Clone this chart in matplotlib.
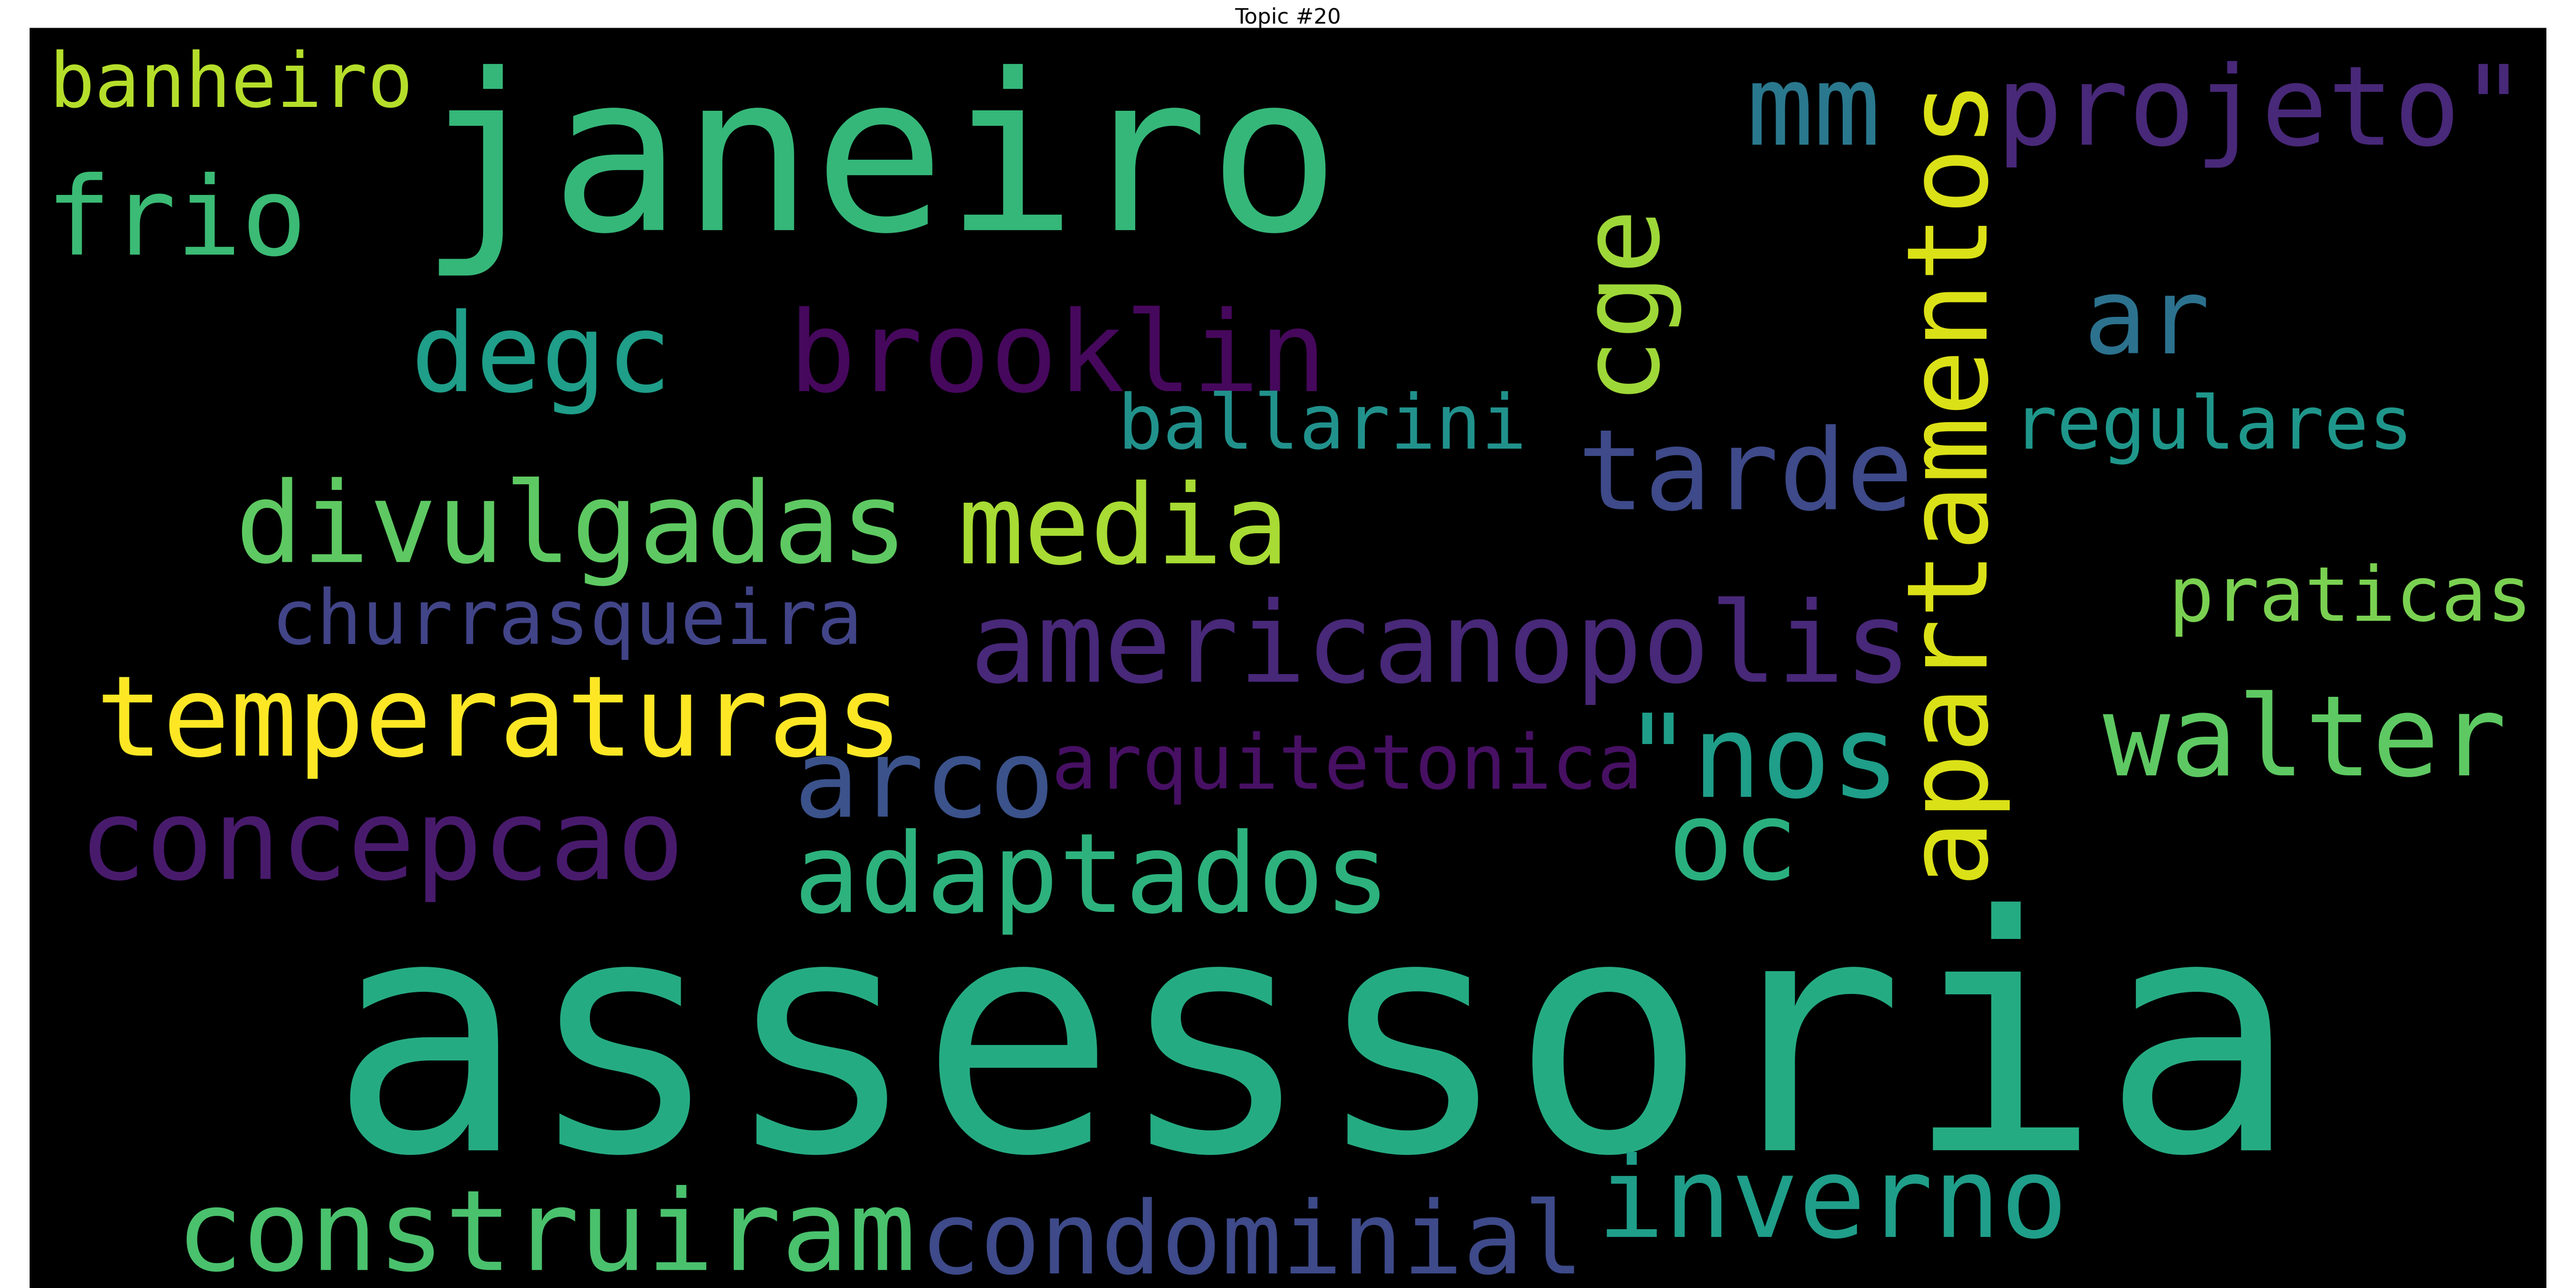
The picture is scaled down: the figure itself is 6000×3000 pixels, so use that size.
import matplotlib
matplotlib.use("Agg")
import matplotlib.pyplot as plt

# word cloud data: word, size (em in display px), colour, and layout (left x / baseline y)
words = ["janeiro", "assessoria", "frio", "banheiro", "mm", 'projeto"', "degc", "brooklin",
         "ar", "tarde", "ballarini", "regulares", "divulgadas", "media", "churrasqueira",
         "americanopolis", "praticas", "temperaturas", "arquitetonica", "arco", '"nos',
         "walter", "concepcao", "adaptados", "oc", "inverno", "construiram", "condominial"]
sizes = [133, 199, 66, 46, 68, 67, 66, 68, 64, 68, 46, 45, 68, 67, 46,
         68, 46, 68, 46, 66, 70, 68, 68, 67, 66, 68, 68, 61]
colors = ["#35b779", "#25ab82", "#3bbb75", "#b5de2b", "#2a788e", "#482878", "#1f9e89", "#46085c",
          "#2c728e", "#3e4a89", "#21918c", "#1f968b", "#5ec962", "#a8db34", "#414487",
          "#482878", "#7ad151", "#fde725", "#471063", "#3b528b", "#1f9e89",
          "#5ec962", "#481a6c", "#2db27d", "#2ab07f", "#1f9e89", "#4ac16d", "#3e4a89"]
pos_x = [255, 200, 28, 30, 1063, 1215, 250, 480, 1268, 960, 680, 1225, 143, 583, 165,
         590, 1320, 58, 640, 483, 988, 1280, 48, 483, 1015, 972, 107, 560]
pos_y = [140, 700, 155, 65, 88, 88, 238, 238, 215, 310, 273, 273, 342, 343, 392,
         415, 378, 460, 480, 497, 485, 472, 535, 555, 535, 753, 773, 775]

# vertical words: word, size, colour, centre x / centre y
v_words = ["apartamentos", "cge"]
v_sizes = [68, 66]
v_colors = ["#dde318", "#a0da39"]
v_x = [1186, 985]
v_y = [290, 180]

fig = plt.figure(figsize=(20, 10), dpi=300)
ax = fig.add_axes([18 / 1568, 0, 1532 / 1568, 1 - 17 / 784])
ax.set_facecolor("black")
ax.set_xlim(18, 1550)
ax.set_ylim(784, 17)
ax.set_xticks([])
ax.set_yticks([])
for s in ax.spines.values():
    s.set_visible(False)

k = 3.83 / 300 * 72  # display px -> points
for w, s, c, x, y in zip(words, sizes, colors, pos_x, pos_y):
    ax.text(x, y, w, fontsize=s * k, color=c, family="DejaVu Sans Mono",
            ha="left", va="baseline")
for w, s, c, x, y in zip(v_words, v_sizes, v_colors, v_x, v_y):
    ax.text(x, y, w, fontsize=s * k, color=c, family="DejaVu Sans Mono",
            ha="center", va="center", rotation=90)

ax.set_title("Topic #20", fontsize=12, pad=2)
fig.savefig("out.png")
